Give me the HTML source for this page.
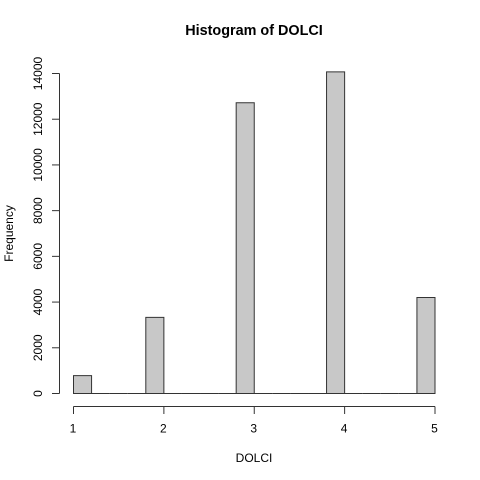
<!DOCTYPE html>
<html>
<head>
<meta charset="utf-8">
<title>Histogram of DOLCI</title>
<style>
html,body{margin:0;padding:0;background:#fff;width:480px;height:480px;overflow:hidden}
svg{display:block;font-family:"Liberation Sans",Arial,sans-serif}
text{fill:#000}
</style>
</head>
<body>
<svg id="chart" width="480" height="480" viewBox="0 0 480 480" xmlns="http://www.w3.org/2000/svg">
<rect width="480" height="480" fill="#fff"/>
<text x="254" y="35" font-size="14.4" font-weight="bold" text-anchor="middle">Histogram of DOLCI</text>
<text x="254" y="462" font-size="12" text-anchor="middle">DOLCI</text>
<text transform="translate(13 233.5) rotate(-90)" font-size="12" text-anchor="middle">Frequency</text>
<g id="bars"></g>
<g id="x-axis"></g>
<g id="y-axis"></g>
</svg>
<script>
const binStart = 1;
const binWidth = 0.2;
const binCounts = [780, 0, 0, 0, 3330, 0, 0, 0, 0, 12720, 0, 0, 0, 0, 14070, 0, 0, 0, 0, 4200];
const xTicks = [1, 2, 3, 4, 5];
const yTicks = [0, 2000, 4000, 6000, 8000, 10000, 12000, 14000];

const NS = 'http://www.w3.org/2000/svg';
const stroke = '#333';
function xScale(v) { return 73.5 + (v - 1) * (435 - 73.5) / 4; }
function yScale(v) { return 393.5 - v * (393.5 - 73.5) / 14000; }
function make(tag, attrs, parent) {
  const el = document.createElementNS(NS, tag);
  for (const k in attrs) el.setAttribute(k, attrs[k]);
  parent.appendChild(el);
  return el;
}

const barsG = document.getElementById('bars');
binCounts.forEach(function (count, i) {
  const x0 = xScale(binStart + i * binWidth);
  const x1 = xScale(binStart + (i + 1) * binWidth);
  const y0 = yScale(count);
  const yb = yScale(0);
  const d = 'M' + x0 + ' ' + yb + 'L' + x0 + ' ' + y0 + 'L' + x1 + ' ' + y0 + 'L' + x1 + ' ' + yb + 'Z';
  const bar = make('path', { d: d, fill: '#c8c8c8', stroke: stroke, 'stroke-width': 1 }, barsG);
  
  
});

const xG = document.getElementById('x-axis');
const xLine = make('line', { x1: xScale(xTicks[0]), x2: xScale(xTicks[xTicks.length - 1]), y1: 406.5, y2: 406.5, stroke: stroke }, xG);


xTicks.forEach(function (t) {
  const tick = make('line', { x1: xScale(t), x2: xScale(t), y1: 406.5, y2: 414, stroke: stroke }, xG);
  
  
  const label = make('text', { x: xScale(t) - 0.5, y: 432.5, 'font-size': 12, 'text-anchor': 'middle' }, xG);
  
  
  label.textContent = t;
});

const yG = document.getElementById('y-axis');
const yLine = make('line', { x1: 59.5, x2: 59.5, y1: yScale(yTicks[0]), y2: yScale(yTicks[yTicks.length - 1]), stroke: stroke }, yG);


yTicks.forEach(function (t) {
  const tick = make('line', { x1: 52, x2: 59.5, y1: yScale(t), y2: yScale(t), stroke: stroke }, yG);
  
  
  const label = make('text', { transform: 'translate(42 ' + yScale(t) + ') rotate(-90)', 'font-size': 12, 'text-anchor': 'middle' }, yG);
  
  
  label.textContent = t;
});
</script>
</body>
</html>
